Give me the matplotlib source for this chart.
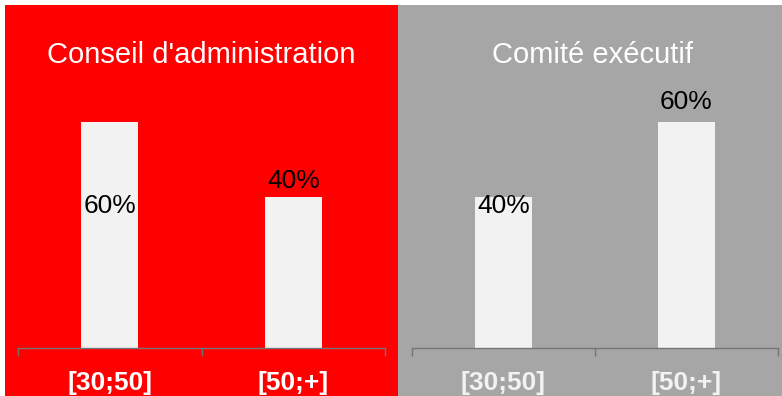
import matplotlib
matplotlib.use("Agg")
import matplotlib.pyplot as plt
from matplotlib.patches import Rectangle

plt.rcParams['font.family'] = ['Liberation Sans', 'DejaVu Sans']

# --- data ---
categories = ["[30;50]", "[50;+]"]
panel_titles = ["Conseil d'administration", "Comité exécutif"]
conseil_values = [60, 40]
comite_values = [40, 60]
value_labels_conseil = ["60%", "40%"]
value_labels_comite = ["40%", "60%"]

# --- layout (pixels, figure is 782x396) ---
W, H = 782, 396
RED = "#FF0000"
GREY = "#A6A6A6"
BAR = "#F2F2F2"
AXIS = "#767676"

fig = plt.figure(figsize=(W / 100, H / 100), dpi=100)


def px_box(x0, y0, x1, y1):
    # pixel box (top-left origin) -> figure fraction rect
    return [x0 / W, 1 - y1 / H, (x1 - x0) / W, (y1 - y0) / H]


# panel backgrounds (behind the axes)
for (x0, x1), col in [((5, 398), RED), ((398, W), GREY)]:
    r = px_box(x0, 5, x1, H)
    fig.patches.append(Rectangle((r[0], r[1]), r[2], r[3], transform=fig.transFigure,
                                 facecolor=col, edgecolor="none", zorder=-5))

YTOP = 65.8  # data units at axes top (60% bar = 226 px)
panels = [
    dict(box=(18, 100, 385, 348), title_x=201.5, values=conseil_values,
         labels=value_labels_conseil, label_y=[35.8, 42.5], tick_color="white"),
    dict(box=(412, 100, 778, 348), title_x=593, values=comite_values,
         labels=value_labels_comite, label_y=[35.8, 63.4], tick_color=BAR),
]

for p, title in zip(panels, panel_titles):
    ax = fig.add_axes(px_box(*p["box"]))
    ax.set_facecolor("none")
    x = range(len(categories))
    ax.bar(x, p["values"], width=0.31, color=BAR, zorder=2)
    ax.set_xlim(-0.5, len(categories) - 0.5)
    ax.set_ylim(0, YTOP)
    for s in ["top", "right", "left"]:
        ax.spines[s].set_visible(False)
    ax.spines["bottom"].set_color(AXIS)
    ax.spines["bottom"].set_linewidth(1)
    ax.set_yticks([])
    ax.set_xticks([i - 0.5 for i in range(len(categories) + 1)])
    ax.set_xticklabels([])
    ax.tick_params(axis="x", length=5.5, width=1, color=AXIS, direction="out")
    for i, cat in enumerate(categories):
        ax.text(i, -0.17, cat, transform=ax.get_xaxis_transform(), ha="center",
                va="baseline", fontsize=19, fontweight="bold", color=p["tick_color"])
    for i, (lab, ly) in enumerate(zip(p["labels"], p["label_y"])):
        ax.text(i, ly, lab, ha="center", va="baseline", fontsize=19, color="black",
                zorder=3, clip_on=False)
    fig.text(p["title_x"] / W, 1 - 63 / H, title, ha="center", va="baseline",
             fontsize=21, color="white")

fig.savefig("out.png", dpi=100)
